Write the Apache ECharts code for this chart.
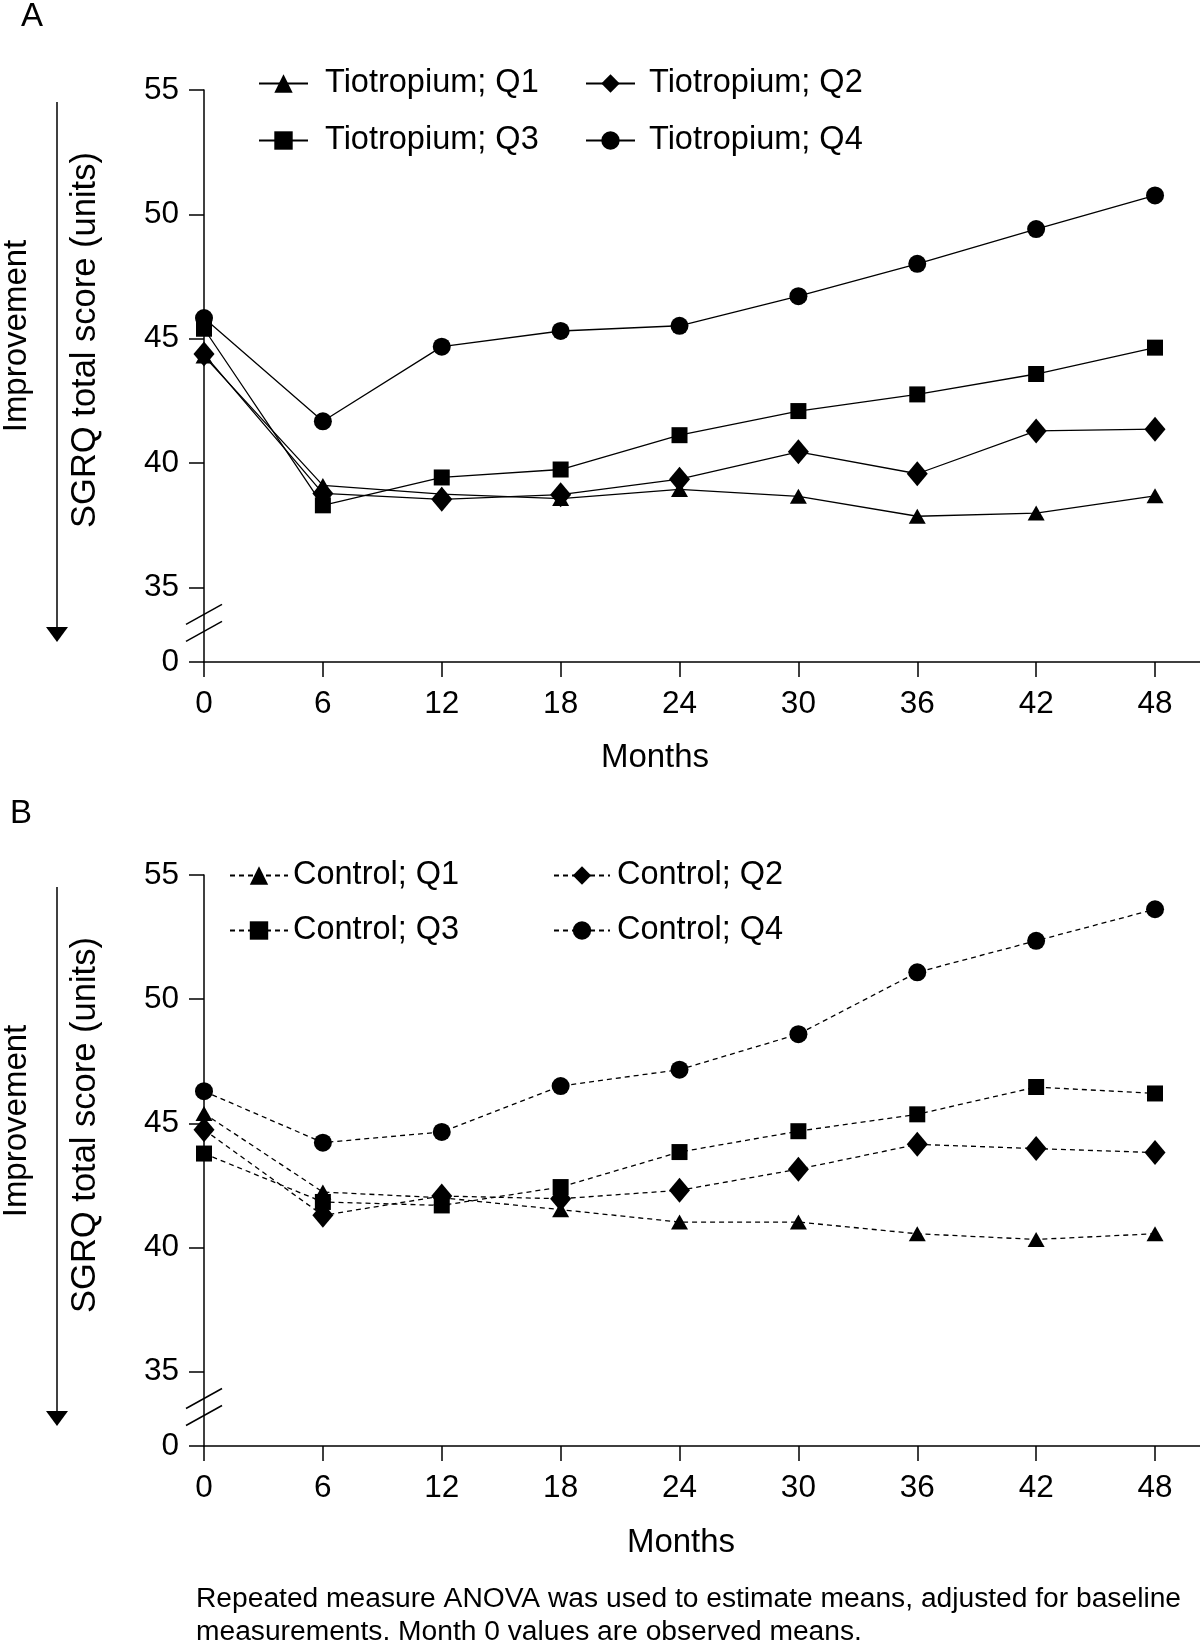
<!DOCTYPE html>
<html><head><meta charset="utf-8">
<script src="https://cdn.jsdelivr.net/npm/echarts@6/dist/echarts.min.js"></script>
<style>html,body{margin:0;padding:0;background:#fff}#c{width:1200px;height:1646px}</style>
</head><body><div id="c"></div>
<script>
// ---------- data ----------
const months = [0, 6, 12, 18, 24, 30, 36, 42, 48];
const xTickValues = [0, 6, 12, 18, 24, 30, 36, 42, 48];
const yTickValues = [32, 35, 40, 45, 50, 55];      // 32 = bottom of broken axis
const yTickLabels = ['0', '35', '40', '45', '50', '55'];

const tioNames = ['Tiotropium; Q1', 'Tiotropium; Q2', 'Tiotropium; Q3', 'Tiotropium; Q4'];
const conNames = ['Control; Q1', 'Control; Q2', 'Control; Q3', 'Control; Q4'];

const tioQ1 = [44.30, 39.10, 38.75, 38.57, 38.94, 38.66, 37.86, 37.99, 38.68];
const tioQ2 = [44.38, 38.78, 38.54, 38.73, 39.35, 40.45, 39.57, 41.29, 41.36];
const tioQ3 = [45.40, 38.30, 39.42, 39.74, 41.12, 42.09, 42.76, 43.58, 44.64];
const tioQ4 = [45.83, 41.68, 44.68, 45.31, 45.52, 46.71, 48.01, 49.41, 50.76];

const conQ1 = [45.39, 42.23, 42.00, 41.52, 41.02, 41.02, 40.55, 40.32, 40.55];
const conQ2 = [44.74, 41.29, 42.07, 41.96, 42.30, 43.15, 44.15, 43.98, 43.82];
const conQ3 = [43.78, 41.83, 41.69, 42.43, 43.84, 44.68, 45.36, 46.46, 46.20];
const conQ4 = [46.29, 44.22, 44.65, 46.50, 47.16, 48.59, 51.08, 52.35, 53.62];

const panelLetters = ['A', 'B'];
const yTitle = 'SGRQ total score (units)';
const arrowText = 'Improvement';
const xTitle = 'Months';
const footnote = ['Repeated measure ANOVA was used to estimate means, adjusted for baseline',
                  'measurements. Month 0 values are observed means.'];

// ---------- styling ----------
const FONT = "'Liberation Sans', Arial, Helvetica, sans-serif";
const symbols = ['triangle', 'diamond', 'rect', 'circle'];
const symbolSizes = [[17, 15], [21, 25], [16, 16], 18];

const chart = echarts.init(document.getElementById('c'), null, { renderer: 'canvas' });

function mkSeries(name, vals, idx, k, dashed) {
  return {
    type: 'line', name, xAxisIndex: idx, yAxisIndex: idx,
    data: months.map((m, i) => [m, vals[i]]),
    symbol: symbols[k], symbolSize: symbolSizes[k], showSymbol: true,
    lineStyle: { color: '#000', width: 1.3, type: dashed ? [5, 4] : 'solid' },
    itemStyle: { color: '#000' },
    emphasis: { disabled: true }, silent: true
  };
}

function mkLegend(name, left, centerY, w, pad) {
  return {
    show: true, data: [name], left, top: centerY - 17, padding: 0,
    itemWidth: w, itemHeight: 23, selectedMode: false,
    textStyle: { fontSize: 32.5, color: '#000', fontFamily: FONT, padding: [0, 0, 0, pad] }
  };
}

function mkX(idx) {
  return {
    type: 'value', gridIndex: idx, min: 0, max: 50.27,
    axisLine: { show: true, onZero: false, lineStyle: { color: '#000', width: 1.5 } },
    axisTick: { show: true, length: 15, customValues: xTickValues, lineStyle: { color: '#000', width: 1.5 } },
    axisLabel: { customValues: xTickValues, fontSize: 31.5, color: '#000', fontFamily: FONT, margin: 26 },
    splitLine: { show: false }
  };
}
function mkY(idx) {
  return {
    type: 'value', gridIndex: idx, min: 32, max: 55,
    axisLine: { show: true, onZero: false, lineStyle: { color: '#000', width: 1.5 } },
    axisTick: { show: true, length: 15, customValues: yTickValues, lineStyle: { color: '#000', width: 1.5 } },
    axisLabel: {
      customValues: yTickValues, fontSize: 31.5, color: '#000', fontFamily: FONT, margin: 25,
      formatter: v => yTickLabels[yTickValues.indexOf(v)]
    },
    splitLine: { show: false }
  };
}

const tioData = [tioQ1, tioQ2, tioQ3, tioQ4];
const conData = [conQ1, conQ2, conQ3, conQ4];

const option = {
  animation: false,
  backgroundColor: '#fff',
  grid: [
    { left: 204, top: 90, width: 996, height: 572 },
    { left: 204, top: 875, width: 996, height: 571 }
  ],
  xAxis: [mkX(0), mkX(1)],
  yAxis: [mkY(0), mkY(1)],
  legend: [
    mkLegend(tioNames[0], 258, 84, 49, 12),
    mkLegend(tioNames[1], 585, 84, 49, 9),
    mkLegend(tioNames[2], 258, 141, 49, 12),
    mkLegend(tioNames[3], 585, 141, 49, 9),
    mkLegend(conNames[0], 229, 876, 58, 0),
    mkLegend(conNames[1], 553, 876, 56, 2),
    mkLegend(conNames[2], 229, 931, 58, 0),
    mkLegend(conNames[3], 553, 931, 56, 2)
  ],
  series: [
    ...tioNames.map((n, k) => mkSeries(n, tioData[k], 0, k, false)),
    ...conNames.map((n, k) => mkSeries(n, conData[k], 1, k, true))
  ]
};
chart.setOption(option);

// ---------- decorations (axis breaks, arrows, titles) ----------
const graphics = [];
const letterPos = [[21, 17], [10, 814]];
const monthsX = [655, 681];
const monthsY = [758, 1543];
const yTitleCY = [340, 1125];
const arrowTextCY = [336, 1121];
for (let p = 0; p < 2; p++) {
  const g = option.grid[p];
  const ax = chart.convertToPixel({ xAxisIndex: p, yAxisIndex: p }, [0, 35]);
  const bottom = chart.convertToPixel({ xAxisIndex: p, yAxisIndex: p }, [0, 32]);
  const x0 = ax[0], y35 = ax[1];
  // break marks "//"
  [27, 44].forEach(off => {
    const yc = y35 + off;
    graphics.push({ type: 'line', shape: { x1: x0 - 18, y1: yc + 10, x2: x0 + 18, y2: yc - 10 },
      style: { stroke: '#000', lineWidth: 1.5 }, z: 100 });
  });
  // improvement arrow
  const top = g.top + 12, tip = bottom[1] - 20;
  graphics.push({ type: 'line', shape: { x1: 57, y1: top, x2: 57, y2: tip - 12 }, style: { stroke: '#000', lineWidth: 1.5 } });
  graphics.push({ type: 'polygon', shape: { points: [[46, tip - 15], [68, tip - 15], [57, tip]] }, style: { fill: '#000' } });
  graphics.push({ type: 'text', x: 17, y: arrowTextCY[p], rotation: Math.PI / 2,
    style: { text: arrowText, fontSize: 33, fontFamily: FONT, fill: '#000', align: 'center', verticalAlign: 'middle' } });
  graphics.push({ type: 'text', x: 85, y: yTitleCY[p], rotation: Math.PI / 2,
    style: { text: yTitle, fontSize: 34.5, fontFamily: FONT, fill: '#000', align: 'center', verticalAlign: 'middle' } });
  graphics.push({ type: 'text', x: letterPos[p][0], y: letterPos[p][1],
    style: { text: panelLetters[p], fontSize: 33, fontFamily: FONT, fill: '#000', align: 'left', verticalAlign: 'middle' } });
  graphics.push({ type: 'text', x: monthsX[p], y: monthsY[p],
    style: { text: xTitle, fontSize: 33, fontFamily: FONT, fill: '#000', align: 'center', verticalAlign: 'middle' } });
}
footnote.forEach((t, i) => {
  graphics.push({ type: 'text', x: 196, y: 1599 + i * 33,
    style: { text: t, fontSize: 28.2, fontFamily: FONT, fill: '#000', align: 'left', verticalAlign: 'middle' } });
});
chart.setOption({ graphic: graphics });
</script>
</body></html>
